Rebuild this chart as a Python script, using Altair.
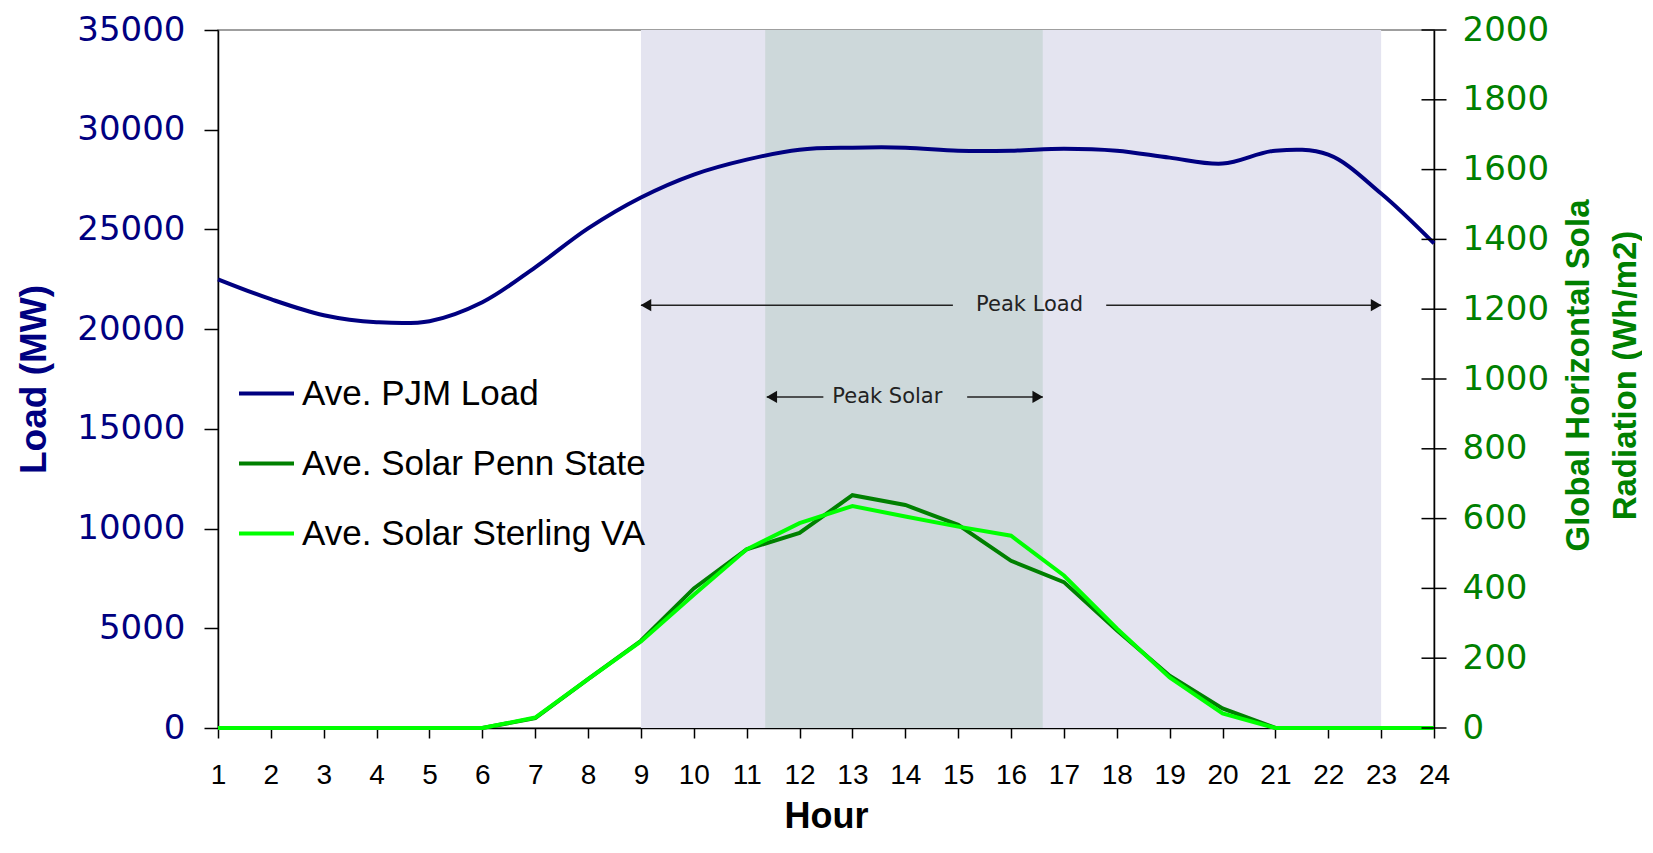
import altair as alt
import pandas as pd

# ---------------- data ----------------
HOURS = list(range(1, 25))
LOAD = [22500, 21500, 20700, 20350, 20400, 21350, 23100, 25050, 26600, 27750,
        28500, 29000, 29100, 29100, 28950, 28950, 29050, 28950, 28600, 28300,
        28950, 28750, 26800, 24300]
PENN = [0, 0, 0, 0, 0, 0, 28, 140, 250, 400, 512, 559, 667, 639, 582, 479,
        418, 280, 150, 56, 0, 0, 0, 0]
STERLING = [0, 0, 0, 0, 0, 0, 30, 140, 248, 382, 512, 587, 636, 606, 577, 551,
            437, 285, 145, 42, 0, 0, 0, 0]
SERIES = ["Ave. PJM Load", "Ave. Solar Penn State", "Ave. Solar Sterling VA"]
COLORS = ["#000080", "#008000", "#00FF00"]

LEFT_TICKS = list(range(0, 35001, 5000))
RIGHT_TICKS = list(range(0, 2001, 200))

BAND_START = [9, 11.35]
BAND_END = [23, 16.6]
BAND_FILL = ["#E4E4F0", "#CDD8DA"]

ARROW_LABEL = ["Peak Load", "Peak Solar"]
ARROW_LEVEL = [21200, 16600]
ARROW_FROM = [9, 11.38]
ARROW_TO = [23, 16.6]
ARROW_TEXT_AT = [16.35, 13.66]
ARROW_GAP_L = [14.9, 12.45]
ARROW_GAP_R = [17.8, 15.17]

W, H = 1216, 698

# ---------------- tables ----------------
load_df = pd.DataFrame({"hour": HOURS, "load": LOAD, "series": SERIES[0]})
solar_df = pd.concat([
    pd.DataFrame({"hour": HOURS, "rad": PENN, "series": SERIES[1]}),
    pd.DataFrame({"hour": HOURS, "rad": STERLING, "series": SERIES[2]}),
])
band_df = pd.DataFrame({"start": BAND_START, "end": BAND_END, "fill": BAND_FILL})
arrow_df = pd.DataFrame({
    "label": ARROW_LABEL, "load": ARROW_LEVEL, "from": ARROW_FROM, "to": ARROW_TO,
    "text_at": ARROW_TEXT_AT, "gap_l": ARROW_GAP_L, "gap_r": ARROW_GAP_R,
})
rtick_df = pd.DataFrame({"rad": RIGHT_TICKS, "hour": [24] * len(RIGHT_TICKS)})

# ---------------- scales / axes ----------------
xscale = alt.Scale(domain=[1, 24], nice=False, zero=False)
xaxis = alt.Axis(values=HOURS, grid=False, labelFont="Liberation Sans", labelFontSize=28,
                 labelColor="black", tickSize=10, tickWidth=1.5, tickColor="black",
                 domainColor="black", domainWidth=1.5, labelPadding=23, labelFlush=False,
                 labelOverlap=False, titleFont="Liberation Sans", titleFontSize=36,
                 titleFontWeight="bold", titleColor="black", titlePadding=10)

ylscale = alt.Scale(domain=[0, 35000], nice=False)
ylaxis = alt.Axis(values=LEFT_TICKS, format="d", grid=False, orient="left",
                  labelFont="DejaVu Sans", labelFontSize=34, labelColor="#000080",
                  labelOverlap=False, tickSize=14, tickColor="black", tickWidth=1.5,
                  domainColor="black", domainWidth=1.5, labelPadding=19,
                  titleFont="Liberation Sans", titleFontSize=37, titleFontWeight="bold",
                  titleColor="#000080", titlePadding=23)

yrscale = alt.Scale(domain=[0, 2000], nice=False)
yraxis = alt.Axis(values=RIGHT_TICKS, format="d", grid=False, orient="right", ticks=False,
                  labelFont="DejaVu Sans", labelFontSize=34, labelColor="#008000",
                  labelOverlap=False, labelPadding=28, domainColor="black", domainWidth=1.5,
                  titleFont="Liberation Sans", titleFontSize=33, titleFontWeight="bold",
                  titleColor="#008000", titleAngle=270, titleBaseline="top",
                  titleX=128, titleY=H / 2 - 4, titleLineHeight=47)
RTITLE = ["Global Horizontal Sola", "Radiation (Wh/m2)"]


def X(field):
    return alt.X(field, type="quantitative", scale=xscale, axis=xaxis, title="Hour")


def YL(field):
    return alt.Y(field, type="quantitative", scale=ylscale, axis=ylaxis, title="Load (MW)")


def YR(field):
    return alt.Y(field, type="quantitative", scale=yrscale, axis=yraxis, title=RTITLE)


legend = alt.Legend(orient="none", legendX=19, legendY=334, title=None,
                    labelFont="Liberation Sans", labelFontSize=35, labelColor="black",
                    symbolType="stroke", symbolStrokeWidth=4, symbolSize=3025,
                    rowPadding=22, labelOffset=6, padding=0, labelLimit=600)
color = alt.Color("series:N", scale=alt.Scale(domain=SERIES, range=COLORS), legend=legend,
                  sort=SERIES)

# ---------------- left (load) group ----------------
bands = alt.Chart(band_df).mark_rect().encode(
    x=X("start"), x2="end", y=alt.value(0), y2=alt.value(H),
    color=alt.Color("fill:N", scale=None),
)
load_line = alt.Chart(load_df).mark_line(strokeWidth=4, interpolate="catmull-rom").encode(
    x=X("hour"), y=YL("load"), color=color,
)
rule_l = alt.Chart(arrow_df).mark_rule(color="#222222", strokeWidth=1.5).encode(
    x=X("from"), x2="gap_l", y=YL("load"))
rule_r = alt.Chart(arrow_df).mark_rule(color="#222222", strokeWidth=1.5).encode(
    x=X("gap_r"), x2="to", y=YL("load"))
head_l = alt.Chart(arrow_df).mark_point(shape="triangle-left", filled=True, size=150,
                                        color="#111111", opacity=1, xOffset=5).encode(
    x=X("from"), y=YL("load"))
head_r = alt.Chart(arrow_df).mark_point(shape="triangle-right", filled=True, size=150,
                                        color="#111111", opacity=1, xOffset=-5).encode(
    x=X("to"), y=YL("load"))
labels = alt.Chart(arrow_df).mark_text(font="DejaVu Sans", fontSize=21, color="#222222",
                                       align="center", baseline="middle").encode(
    x=X("text_at"), y=YL("load"), text="label:N")

left = alt.layer(bands, rule_l, rule_r, head_l, head_r, labels, load_line)

# ---------------- right (solar) group ----------------
solar_lines = alt.Chart(solar_df).mark_line(strokeWidth=4).encode(
    x=X("hour"), y=YR("rad"), color=color, order=alt.Order("series:N"),
)
rticks = alt.Chart(rtick_df).mark_tick(orient="horizontal", size=25, thickness=1.5,
                                       color="black", opacity=1).encode(
    x=X("hour"), y=YR("rad"))

right = alt.layer(solar_lines, rticks)

chart = (
    alt.layer(left, right)
    .resolve_scale(y="independent")
    .properties(width=W, height=H, padding={"left": 7, "top": 5, "right": 0, "bottom": 0},
                background="white")
    .configure_view(stroke="#808080", strokeWidth=1.5)
)

chart.save("out.html", embed_options={"renderer": "svg", "actions": False})
